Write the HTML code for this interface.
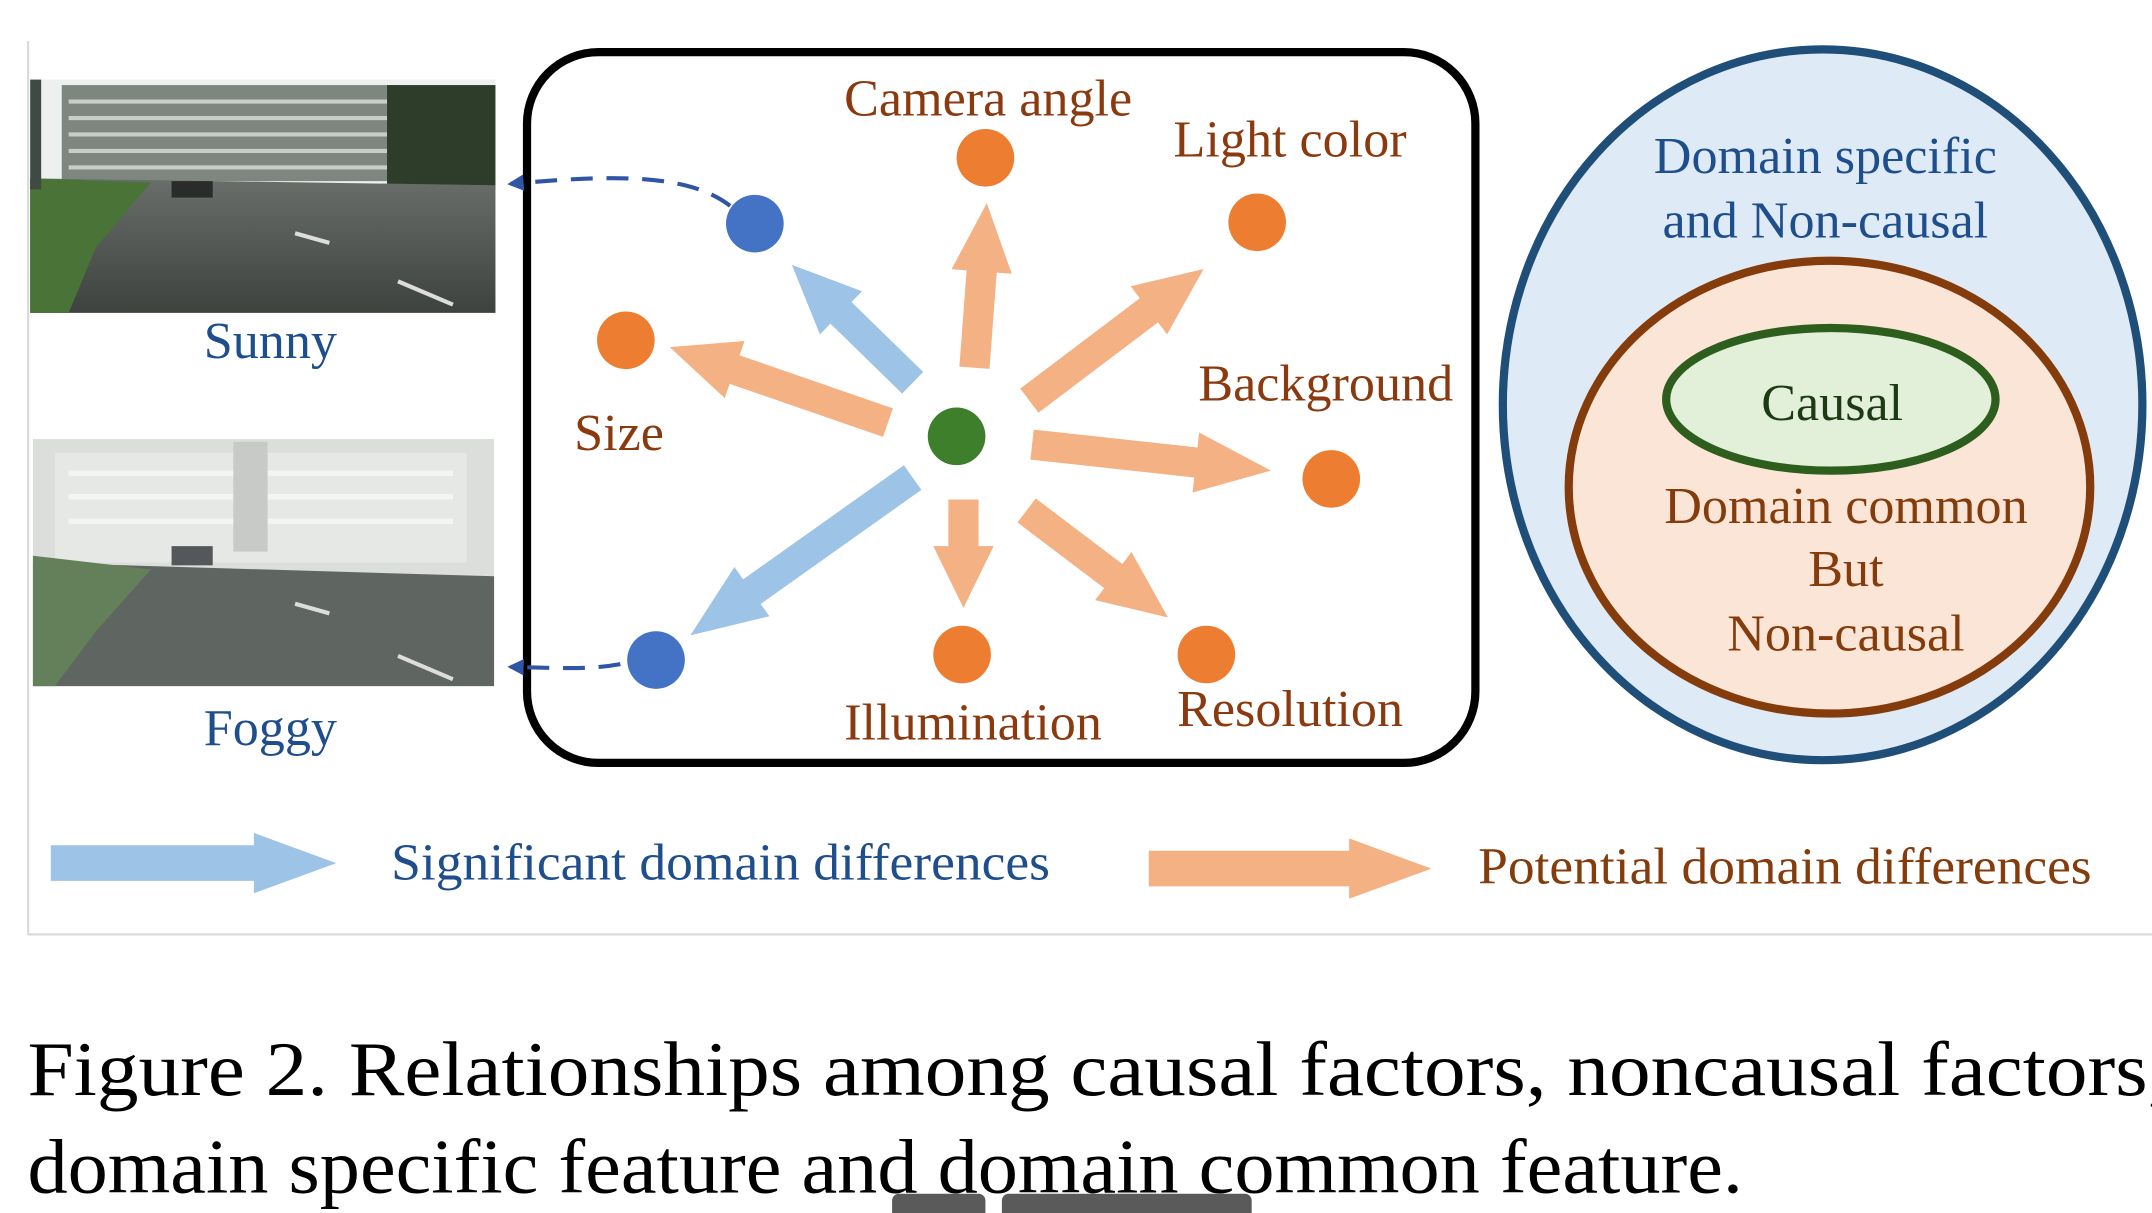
<!DOCTYPE html>
<html><head><meta charset="utf-8"><style>
html,body{margin:0;padding:0;background:#fff;}
svg{display:block;}
text{font-family:"Liberation Serif",serif;}
</style></head><body>
<svg width="2152" height="1213" viewBox="0 0 1568 884" preserveAspectRatio="none" xmlns="http://www.w3.org/2000/svg">
<defs>
<linearGradient id="roadg" x1="0" y1="0" x2="0" y2="1"><stop offset="0" stop-color="#6a6e6a"/><stop offset="1" stop-color="#3e423f"/></linearGradient>
<marker id="ah" viewBox="0 0 10 10" refX="8" refY="5" markerWidth="4" markerHeight="4" orient="auto"><path d="M0,0 L10,5 L0,10 z" fill="#2f55a4"/></marker>
</defs>
<g>
<line x1="20.5" y1="30" x2="20.5" y2="681" stroke="#d8d8d8" stroke-width="1.5"/>
<line x1="20" y1="681" x2="1568" y2="681" stroke="#d8d8d8" stroke-width="1.5"/>
</g>
<g>
<rect x="22" y="58" width="339" height="80" fill="#eef0ef"/>
<rect x="45" y="62" width="245" height="70" fill="#7d867f"/>
<g stroke="#c8cdc8" stroke-width="3"><line x1="50" y1="74" x2="285" y2="74"/><line x1="50" y1="86" x2="285" y2="86"/><line x1="50" y1="98" x2="285" y2="98"/><line x1="50" y1="110" x2="285" y2="110"/><line x1="50" y1="122" x2="285" y2="122"/></g>
<rect x="282" y="62" width="79" height="76" fill="#2d3d29"/>
<path d="M22,130 L361,135 L361,228 L22,228 Z" fill="url(#roadg)"/>
<path d="M22,130 L110,133 L70,180 L50,228 L22,228 Z" fill="#4a7338"/>
<rect x="22" y="58" width="8" height="80" fill="#3f4a42"/>
<g stroke="#ddd" stroke-width="3"><line x1="290" y1="205" x2="330" y2="222"/><line x1="215" y1="170" x2="240" y2="177"/></g>
<rect x="125" y="132" width="30" height="12" fill="#2a2c2c"/>
</g>
<text x="197" y="261" font-size="38" fill="#1f4e8c" text-anchor="middle">Sunny</text>
<g>
<rect x="24" y="320" width="336" height="180" fill="#dcdedc"/>
<rect x="40" y="330" width="300" height="80" fill="#e6e8e6"/>
<g stroke="#f4f4f4" stroke-width="4"><line x1="50" y1="345" x2="330" y2="345"/><line x1="50" y1="362" x2="330" y2="362"/><line x1="50" y1="380" x2="330" y2="380"/></g>
<rect x="170" y="322" width="25" height="80" fill="#c8cac8"/>
<path d="M24,410 L360,420 L360,500 L24,500 Z" fill="#5f6560"/>
<path d="M24,405 L110,415 L70,460 L40,500 L24,500 Z" fill="#63805a"/>
<rect x="125" y="398" width="30" height="14" fill="#55585a"/>
<g stroke="#ddd" stroke-width="3"><line x1="290" y1="478" x2="330" y2="495"/><line x1="215" y1="440" x2="240" y2="447"/></g>
</g>
<text x="197" y="543" font-size="38" fill="#1f4e8c" text-anchor="middle">Foggy</text>
<rect x="384" y="38" width="691" height="518" rx="52" fill="none" stroke="#000" stroke-width="6"/>
<g id="arrows"></g>
<path d="M532,150 C500,125 440,128 372,134" fill="none" stroke="#2f55a4" stroke-width="3" stroke-dasharray="16,10" marker-end="url(#ah)"/>
<path d="M452,484 C430,488 410,487 372,486" fill="none" stroke="#2f55a4" stroke-width="3" stroke-dasharray="16,10" marker-end="url(#ah)"/>
<circle cx="697" cy="318" r="21" fill="#3d7f2b"/>
<g id="nodes"></g>
<g fill="#8b3a0f" font-size="38">
<text x="720" y="84" text-anchor="middle">Camera angle</text>
<text x="940" y="114" text-anchor="middle">Light color</text>
<text x="451" y="328" text-anchor="middle">Size</text>
<text x="966" y="292" text-anchor="middle">Background</text>
<text x="709" y="539" text-anchor="middle">Illumination</text>
<text x="940" y="529" text-anchor="middle">Resolution</text>
</g>
<ellipse cx="1328" cy="295" rx="233" ry="259" fill="#deebf7" stroke="#1f4e79" stroke-width="6"/>
<ellipse cx="1333" cy="355" rx="190" ry="165" fill="#fbe5d6" stroke="#843c0c" stroke-width="6"/>
<ellipse cx="1334" cy="291" rx="120" ry="52" fill="#e2f0d9" stroke="#2e5e1e" stroke-width="6"/>
<g font-size="38" text-anchor="middle">
<text x="1330" y="126" fill="#1f4e8c">Domain specific</text>
<text x="1330" y="173" fill="#1f4e8c">and Non-causal</text>
<text x="1335" y="306" fill="#1d3a14">Causal</text>
<text x="1345" y="381" fill="#843c0c">Domain common</text>
<text x="1345" y="427" fill="#843c0c">But</text>
<text x="1345" y="474" fill="#843c0c">Non-causal</text>
</g>
<g id="legend"></g>
<text x="285" y="641" font-size="38" fill="#1f4e8c" textLength="480" lengthAdjust="spacingAndGlyphs">Significant domain differences</text>
<text x="1077" y="644" font-size="38" fill="#843c0c" textLength="447" lengthAdjust="spacingAndGlyphs">Potential domain differences</text>
<text x="20" y="798" font-size="56" fill="#000" textLength="1560" lengthAdjust="spacingAndGlyphs">Figure 2.  Relationships among causal factors, noncausal factors,</text>
<text x="20" y="869" font-size="56" fill="#000" textLength="1250" lengthAdjust="spacingAndGlyphs">domain specific feature and domain common feature.</text>
<g fill="#5a5a5a">
<rect x="650" y="870" width="68" height="20" rx="5"/>
<rect x="730" y="870" width="182" height="20" rx="5"/>
</g>
</svg>
<script>
const NS='http://www.w3.org/2000/svg';
function arrow(g,x1,y1,x2,y2,w,hw,hl,color){
  const dx=x2-x1,dy=y2-y1,L=Math.hypot(dx,dy),ux=dx/L,uy=dy/L,nx=-uy,ny=ux;
  const bx=x2-ux*hl,by=y2-uy*hl;
  const p=[[x1+nx*w/2,y1+ny*w/2],[bx+nx*w/2,by+ny*w/2],[bx+nx*hw/2,by+ny*hw/2],[x2,y2],[bx-nx*hw/2,by-ny*hw/2],[bx-nx*w/2,by-ny*w/2],[x1-nx*w/2,y1-ny*w/2]];
  const el=document.createElementNS(NS,'polygon');
  el.setAttribute('points',p.map(q=>q.join(',')).join(' '));
  el.setAttribute('fill',color);
  
  
  g.appendChild(el);
}
const ORANGE='#f4b183',BLUE='#9dc3e6';
const ag=document.getElementById('arrows');
arrow(ag,710,268,719,148,22,44,50,ORANGE);
arrow(ag,750,292,877,196,22,44,50,ORANGE);
arrow(ag,647,308,488,253,22,44,50,ORANGE);
arrow(ag,752,324,926,343,22,44,55,ORANGE);
arrow(ag,702,364,702,443,22,44,45,ORANGE);
arrow(ag,748,372,851,450,22,44,50,ORANGE);
arrow(ag,665,279,577,193,22,44,50,BLUE);
arrow(ag,665,348,503,463,22,44,55,BLUE);
const ng=document.getElementById('nodes');
[[718,115,'#ed7d31'],[916,162,'#ed7d31'],[456,248,'#ed7d31'],[970,349,'#ed7d31'],[701,477,'#ed7d31'],[879,477,'#ed7d31'],[550,163,'#4472c4'],[478,481,'#4472c4']].forEach(d=>{
  const c=document.createElementNS(NS,'circle');
  c.setAttribute('cx',d[0]);c.setAttribute('cy',d[1]);c.setAttribute('r',21);c.setAttribute('fill',d[2]);
  
  
  ng.appendChild(c);
});
const lg=document.getElementById('legend');
arrow(lg,37,629,245,629,26,44,60,BLUE);
arrow(lg,837,633,1043,633,26,44,60,ORANGE);
</script>
</body></html>
